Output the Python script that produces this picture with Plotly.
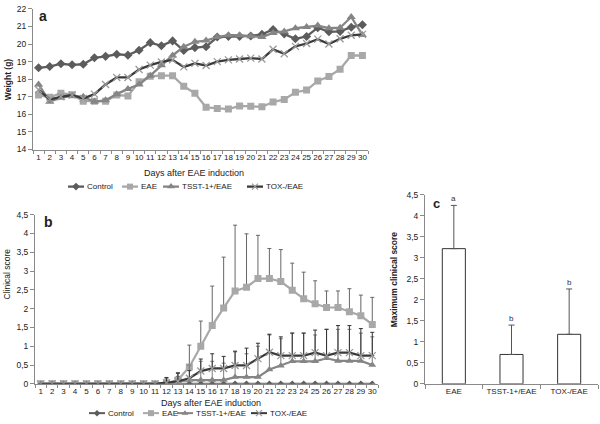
import plotly.graph_objects as go

# ---------------- data ----------------
days = list(range(1, 31))
day_labels = [str(d) for d in days]
series_names = ["Control", "EAE", "TSST-1+/EAE", "TOX-/EAE"]

weight_control = [18.65, 18.72, 18.88, 18.82, 18.85, 19.22, 19.3, 19.42, 19.37, 19.65,
                  20.08, 19.9, 20.18, 19.63, 19.8, 19.85, 20.4, 20.44, 20.44, 20.46,
                  20.55, 20.83, 20.58, 20.3, 20.43, 20.93, 20.7, 20.72, 20.96, 21.1]
weight_eae = [17.1, 16.97, 17.2, 17.12, 16.75, 16.75, 16.75, 17.1, 17.05, 17.85,
              18.17, 18.2, 18.2, 17.6, 17.2, 16.4, 16.33, 16.3, 16.48, 16.46,
              16.43, 16.7, 16.85, 17.26, 17.38, 17.9, 18.15, 18.57, 19.35, 19.35]
weight_tsst = [17.7, 16.72, 16.95, 17.05, 17.0, 16.72, 16.8, 17.15, 17.45, 17.7,
               18.2, 18.8, 19.35, 19.85, 20.13, 20.2, 20.4, 20.5, 20.5, 20.45,
               20.4, 20.63, 20.72, 20.9, 20.97, 21.05, 20.9, 20.93, 21.54, 20.52]
weight_tox = [17.4, 16.85, 17.0, 17.1, 16.9, 17.15, 17.7, 18.1, 18.1, 18.55,
              18.8, 18.98, 19.1, 18.7, 18.9, 18.78, 19.0, 19.1, 19.15, 19.2,
              19.15, 19.7, 19.45, 19.87, 20.03, 20.28, 20.0, 20.3, 20.5, 20.55]

score_control = [0] * 30
score_eae = [0] * 11 + [0.02, 0.1, 0.45, 1.0, 1.55, 2.02, 2.47, 2.57, 2.8, 2.8,
                        2.72, 2.49, 2.26, 2.13, 2.03, 2.03, 1.92, 1.81, 1.58]
sd_eae = [0] * 11 + [0.13, 0.2, 0.58, 0.67, 1.05, 1.35, 1.75, 1.42, 1.15, 0.8,
                     0.85, 0.72, 0.71, 0.61, 0.44, 0.44, 0.61, 0.55, 0.72]
score_tsst = [0] * 11 + [0.03, 0.07, 0.1, 0.1, 0.1, 0.1, 0.18, 0.18, 0.18, 0.38,
                         0.48, 0.6, 0.6, 0.6, 0.68, 0.61, 0.61, 0.61, 0.5]
sd_tsst = [0] * 11 + [0.07, 0.13, 0.4, 0.5, 0.5, 0.45, 0.67, 0.62, 0.82, 0.92,
                      0.72, 0.75, 0.75, 0.7, 0.77, 0.84, 0.84, 0.74, 0.75]
score_tox = [0] * 11 + [0.03, 0.07, 0.15, 0.34, 0.41, 0.41, 0.49, 0.49, 0.67, 0.84,
                        0.75, 0.75, 0.75, 0.83, 0.75, 0.83, 0.83, 0.75, 0.75]
sd_tox = [0] * 11 + [0.14, 0.21, 0.2, 0.32, 0.39, 0.32, 0.38, 0.46, 0.41, 0.48,
                     0.5, 0.6, 0.6, 0.6, 0.7, 0.72, 0.72, 0.72, 0.62]

groups_c = ["EAE", "TSST-1+/EAE", "TOX-/EAE"]
max_score = [3.22, 0.7, 1.18]
max_sd = [1.03, 0.7, 1.08]
letters_c = ["a", "b", "b"]

# ---------------- styling ----------------
W, H = 600, 424
FONT = "Liberation Sans, Arial, sans-serif"
C_CTRL = "#5c5c5c"
C_EAE = "#a8a8a8"
C_TSST = "#858585"
C_TOX = "#3a3a3a"
C_TOXM = "#9a9a9a"
AX = "#8a8a8a"
CLEAR = "rgba(0,0,0,0)"


def px(x):
    return x / W


def py(y):
    return 1 - y / H


fig = go.Figure()

# ---------- panel a ----------
a_styles = [
    (C_CTRL, dict(symbol="diamond", size=7, color=C_CTRL)),
    (C_EAE, dict(symbol="square", size=7, color=C_EAE)),
    (C_TSST, dict(symbol="triangle-up", size=8, color=C_TSST)),
    (C_TOX, dict(symbol="x-thin", size=7, line=dict(color=C_TOXM, width=1.3))),
]
a_values = [weight_control, weight_eae, weight_tsst, weight_tox]
for name, vals, (col, mk) in zip(series_names, a_values, a_styles):
    fig.add_trace(go.Scatter(x=days, y=vals, name=name, mode="lines+markers",
                             line=dict(color=col, width=2.3), marker=mk,
                             xaxis="x", yaxis="y", showlegend=False))

# ---------- panel b ----------
b_styles = [
    (C_CTRL, C_CTRL, dict(symbol="diamond", size=5, color=C_CTRL)),
    (C_EAE, "#666666", dict(symbol="square", size=7, color=C_EAE)),
    (C_TSST, "#7a7a7a", dict(symbol="triangle-up", size=7, color=C_TSST)),
    (C_TOX, "#333333", dict(symbol="x-thin", size=7, line=dict(color=C_TOXM, width=1.3))),
]
b_values = [score_control, score_eae, score_tsst, score_tox]
b_sds = [None, sd_eae, sd_tsst, sd_tox]
for name, vals, sd, (col, ecol, mk) in zip(series_names, b_values, b_sds, b_styles):
    err = None
    if sd is not None:
        err = dict(type="data", array=sd, arrayminus=[0] * len(sd), symmetric=False,
                   color=ecol, thickness=1, width=2)
    fig.add_trace(go.Scatter(x=days, y=vals, name=name, mode="lines+markers",
                             line=dict(color=col, width=2.2), marker=mk, error_y=err,
                             xaxis="x2", yaxis="y2", showlegend=False))

# ---------- panel c ----------
fig.add_trace(go.Bar(x=groups_c, y=max_score, width=0.4,
                     marker=dict(color="white", line=dict(color="#333333", width=1)),
                     error_y=dict(type="data", array=max_sd, arrayminus=[0] * 3, symmetric=False,
                                  color="#555555", thickness=1, width=3),
                     xaxis="x3", yaxis="y3", showlegend=False))
for g, v, s, l in zip(groups_c, max_score, max_sd, letters_c):
    fig.add_annotation(x=g, y=v + s, xref="x3", yref="y3", text=l, showarrow=False,
                       yanchor="bottom", yshift=0, font=dict(size=8, family=FONT, color="#333333"))

# ---------- legends (drawn in a pixel overlay) ----------
legend_a_x = [68, 122, 163, 247]
legend_b_x = [89, 143, 177, 251]
legend_rows = [(186, legend_a_x, [s[0] for s in a_styles], [s[1] for s in a_styles], 2.3),
               (418, legend_b_x, [s[0] for s in b_styles], [s[2] for s in b_styles], 2.0)]
for ly, xs, cols, mks, lw in legend_rows:
    for name, x0, col, mk0 in zip(series_names, xs, cols, mks):
        mk = dict(mk0)
        mk["size"] = max(mk.get("size", 6) - 1, 5)
        fig.add_trace(go.Scatter(x=[x0, x0 + 16], y=[ly, ly], mode="lines",
                                 line=dict(color=col, width=lw),
                                 xaxis="x4", yaxis="y4", showlegend=False, hoverinfo="skip"))
        fig.add_trace(go.Scatter(x=[x0 + 8], y=[ly], mode="markers", marker=mk,
                                 xaxis="x4", yaxis="y4", showlegend=False, hoverinfo="skip"))
        fig.add_annotation(x=x0 + 17, y=ly, xref="x4", yref="y4", text=name, showarrow=False,
                           xanchor="left", yanchor="middle", font=dict(size=8, color="#222"))

# ---------- axes ----------
tick_font = dict(family=FONT, size=8.5, color="#222")
xtick_font = dict(family=FONT, size=8, color="#222")
bounds = [d + 0.5 for d in [0] + days]
common_x = dict(range=[0.5, 30.5], tickmode="array", tickvals=days, ticktext=day_labels,
                tickangle=0, ticks="", showline=True, linecolor=AX, linewidth=1, showgrid=False,
                zeroline=False, tickfont=xtick_font,
                minor=dict(tickmode="array", tickvals=bounds, ticks="outside", ticklen=3,
                           tickcolor=AX, showgrid=False))
common_y = dict(showline=True, linecolor=AX, linewidth=1, ticks="outside", ticklen=4,
                tickcolor=AX, showgrid=False, zeroline=False, tickfont=tick_font)

fig.update_layout(
    width=W, height=H, margin=dict(l=0, r=0, t=0, b=0),
    paper_bgcolor="white", plot_bgcolor=CLEAR, separators=", ",
    font=dict(family=FONT, color="#222"),
    xaxis=dict(common_x, domain=[px(33), px(368)], anchor="y"),
    yaxis=dict(common_y, domain=[py(148), py(4)], anchor="x", range=[14, 22], dtick=1),
    xaxis2=dict(common_x, domain=[px(35), px(378)], anchor="y2"),
    yaxis2=dict(common_y, domain=[py(388), py(214.7)], anchor="x2", range=[0, 4.5], dtick=0.5),
    xaxis3=dict(domain=[px(425), px(598)], anchor="y3", showline=True, linecolor=AX,
                ticks="", tickfont=xtick_font, tickangle=0, showgrid=False,
                minor=dict(tickmode="array", tickvals=[-0.5, 0.5, 1.5, 2.5], ticks="outside",
                           ticklen=4, tickcolor=AX), range=[-0.5, 2.5]),
    yaxis3=dict(common_y, domain=[py(388), py(194.5)], anchor="x3", range=[0, 4.5], dtick=0.5),
    xaxis4=dict(domain=[0, 1], range=[0, W], visible=False, anchor="y4", fixedrange=True),
    yaxis4=dict(domain=[0, 1], range=[H, 0], visible=False, anchor="x4", fixedrange=True),
)

# ---------- text ----------
def ann(x, y, text, size, bold=False, angle=0, xanchor="center"):
    fig.add_annotation(x=px(x), y=py(y), xref="paper", yref="paper",
                       text=f"<b>{text}</b>" if bold else text,
                       showarrow=False, textangle=angle, xanchor=xanchor, yanchor="middle",
                       font=dict(size=size, family=FONT, color="#222"))

ann(43, 11, "a", 14, bold=True)
ann(48, 222, "b", 14, bold=True)
ann(436, 203, "c", 13, bold=True)
ann(8, 76, "Weight (g)", 8.5, bold=True, angle=-90)
ann(7, 276, "Clinical score", 8.5, angle=-90)
ann(394, 281, "Maximum clinical score", 8.5, bold=True, angle=-90)
ann(194, 172, "Days after EAE induction", 9)
ann(211, 408, "Days after EAE induction", 9)

fig.write_html("out.html", config={"displayModeBar": False},
               post_script="document.body.style.margin='0';document.body.style.padding='0';")
